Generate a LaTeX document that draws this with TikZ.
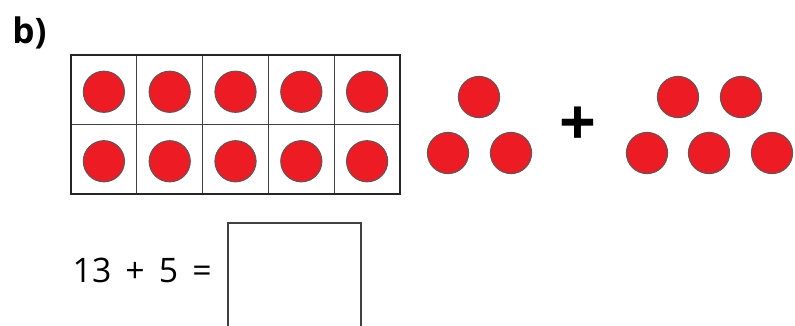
\documentclass[tikz,border=0pt]{standalone}
\usepackage{fontspec}
\setmainfont{Open Sans}
\usepackage{xcolor}
\usetikzlibrary{positioning, fit}
\definecolor{counterred}{RGB}{237,28,36}

\begin{document}
\begin{tikzpicture}[
    x=0.025cm, y=-0.025cm,
    cellbox/.style={draw=black!75, line width=0.7pt, minimum width=1.645cm,
                    minimum height=1.74cm, inner sep=0pt, outer sep=0pt},
    counter/.style={circle, draw=black!65, line width=0.7pt, fill=counterred,
                    minimum size=1.03cm, inner sep=0pt},
    eqtext/.style={font=\fontsize{24}{28}\selectfont, inner sep=0pt},
]
\useasboundingbox (0,0) rectangle (795,325);

\node[font=\fontsize{25}{30}\selectfont\bfseries, inner sep=0pt, anchor=base west]
    (part) at (12,43) {b)};

% ten frame
\foreach \r/\yy in {1/89.75, 2/159.25}{
  \foreach \c in {1,...,5}{
    \node[cellbox] (c-\r-\c) at ({71+32.9+65.8*(\c-1)},\yy) {};
    \node[counter] (d-\r-\c) at ([yshift=-0.05cm]c-\r-\c.center) {};
  }
}
\node[fit=(c-1-1)(c-2-5), draw=black!85, line width=1.6pt, inner sep=0pt] (frame) {};

% three counters
\node[counter] (ga1) at (479,97) {};
\node[counter] (ga2) at (448,153) {};
\node[counter] (ga3) at (511,153) {};

\node[font=\fontsize{46}{46}\selectfont\bfseries, inner sep=0pt] (plus) at (578,126) {+};

% five counters
\node[counter] (gb1) at (678,97) {};
\node[counter] (gb2) at (741,97) {};
\node[counter] (gb3) at (647,153) {};
\node[counter] (gb4) at (709,153) {};
\node[counter] (gb5) at (772,153) {};

% equation
\node[eqtext, anchor=base east] (sum) at (212,282)
    {13\hspace{0.42em}+\hspace{0.42em}5\hspace{0.42em}=};
\node[draw=black!75, line width=1.2pt, minimum width=3.325cm, minimum height=3.2cm,
      inner sep=0pt, anchor=north west] (answer) at (227,222) {};
\end{tikzpicture}
\end{document}
